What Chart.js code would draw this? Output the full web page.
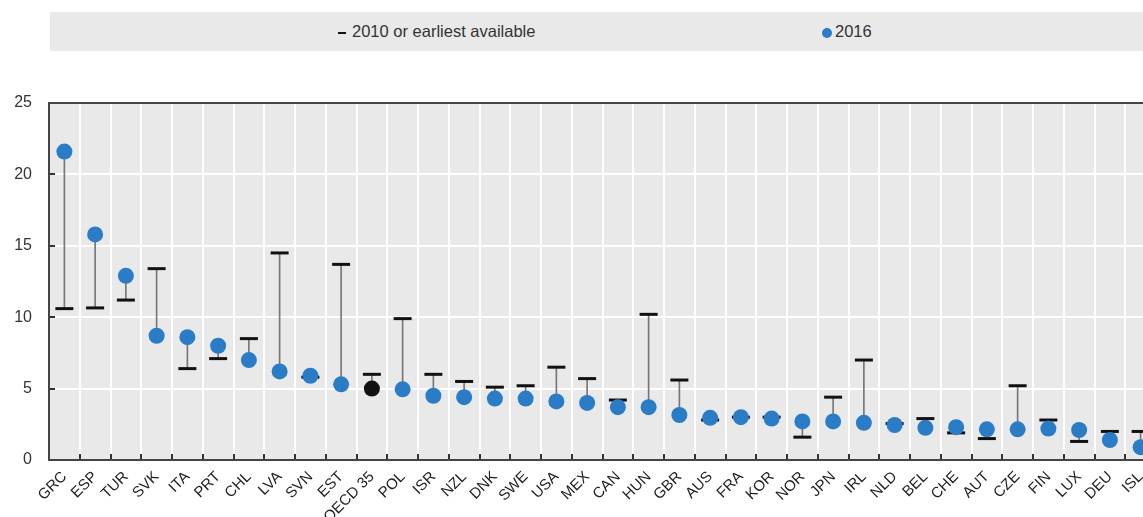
<!DOCTYPE html>
<html>
<head>
<meta charset="utf-8">
<script src="https://cdn.jsdelivr.net/npm/chart.js@4.4.0/dist/chart.umd.min.js"></script>
<style>
  body { margin: 0; background: #fff; overflow: hidden; width: 1143px; height: 517px; position: relative;
         font-family: "Liberation Sans", Arial, sans-serif; }
  #legend { position: absolute; left: 50px; top: 12px; width: 1110px; height: 39px; background: #e9e9e9; }
  .item { position: absolute; top: 0; line-height: 39px; font-size: 16.5px; color: #333; white-space: nowrap; }
  .dash { display: inline-block; width: 8px; height: 2px; background: #111; vertical-align: middle; margin-right: 6px; }
  .dot { display: inline-block; width: 10px; height: 10px; border-radius: 50%; background: #2a7cc6; vertical-align: middle; margin-right: 3px; }
  #wrap { position: absolute; left: 0; top: 0; }
</style>
</head>
<body>
<div id="legend">
  <div class="item" style="left:288px"><span class="dash"></span>2010 or earliest available</div>
  <div class="item" style="left:772px"><span class="dot"></span>2016</div>
</div>
<div id="wrap"><canvas id="chart" width="1168" height="517"></canvas></div>
<script>
// pays, valeurs 2016 et 2010 (ou plus ancienne)
const countries = ["GRC", "ESP", "TUR", "SVK", "ITA", "PRT", "CHL", "LVA", "SVN", "EST", "OECD 35", "POL",
  "ISR", "NZL", "DNK", "SWE", "USA", "MEX", "CAN", "HUN", "GBR", "AUS", "FRA", "KOR", "NOR", "JPN",
  "IRL", "NLD", "BEL", "CHE", "AUT", "CZE", "FIN", "LUX", "DEU", "ISL"];
const val2016 = [21.6, 15.8, 12.9, 8.7, 8.6, 8.0, 7.0, 6.2, 5.9, 5.3, 5.0, 4.95,
  4.5, 4.4, 4.3, 4.3, 4.1, 4.0, 3.7, 3.7, 3.15, 2.95, 3.0, 2.9, 2.7, 2.7,
  2.6, 2.45, 2.25, 2.3, 2.15, 2.15, 2.2, 2.1, 1.4, 0.9];
const val2010 = [10.6, 10.65, 11.2, 13.4, 6.4, 7.1, 8.5, 14.5, 5.8, 13.7, 6.0, 9.9,
  6.0, 5.5, 5.1, 5.2, 6.5, 5.7, 4.2, 10.2, 5.6, 2.8, 3.0, 3.0, 1.6, 4.4,
  7.0, 2.55, 2.9, 1.9, 1.5, 5.2, 2.8, 1.3, 2.0, 2.0];
const yTicks = [0, 5, 10, 15, 20, 25];

const blue = "#2a7cc6";
const dotColors = countries.map(c => c === "OECD 35" ? "#111" : blue);
const ranges = countries.map((c, i) => [Math.min(val2016[i], val2010[i]), Math.max(val2016[i], val2010[i])]);

/* fond gris, cadre et petites graduations vers l'intérieur */
const frame = {
  id: "frame",
  beforeDraw(chart) {
    const a = chart.chartArea, ctx = chart.ctx;
    ctx.save();
    ctx.fillStyle = "#e9e9e9";
    ctx.fillRect(a.left, a.top, a.right - a.left, a.bottom - a.top);
    ctx.restore();
  },
  beforeDatasetsDraw(chart) {
    const a = chart.chartArea, ctx = chart.ctx;
    const x = chart.scales.x, y = chart.scales.y;
    ctx.save();
    ctx.strokeStyle = "#333";
    ctx.lineWidth = 2;
    ctx.beginPath();
    for (let i = 1; i < countries.length; i++) {
      const px = Math.round((x.getPixelForValue(i - 1) + x.getPixelForValue(i)) / 2);
      ctx.moveTo(px, a.bottom);
      ctx.lineTo(px, a.bottom - 6);
    }
    yTicks.slice(1, -1).forEach(v => {
      const py = Math.round(y.getPixelForValue(v));
      ctx.moveTo(a.left, py);
      ctx.lineTo(a.left + 6, py);
    });
    ctx.stroke();
    ctx.strokeStyle = "#444";
    ctx.strokeRect(a.left, a.top, a.right - a.left, a.bottom - a.top);
    ctx.restore();
  }
};

const chart = new Chart(document.getElementById("chart"), {
  type: "line",
  data: {
    labels: countries,
    datasets: [
      {
        type: "bar",
        label: "range",
        data: ranges,
        backgroundColor: "#777",
        barThickness: 1,
        order: 3
      },
      {
        label: "2010 or earliest available",
        data: val2010,
        showLine: false,
        pointStyle: "line",
        pointRadius: 9,
        pointBorderWidth: 3,
        borderColor: "#111",
        pointBorderColor: "#111",
        order: 2
      },
      {
        label: "2016",
        data: val2016,
        showLine: false,
        pointRadius: 8,
        pointBorderWidth: 0,
        pointBackgroundColor: dotColors,
        pointBorderColor: dotColors,
        order: 1
      }
    ]
  },
  options: {
    responsive: false,
    animation: false,
    layout: { padding: { top: 103, right: 0, left: 0, bottom: 0 } },
    plugins: { legend: { display: false }, tooltip: { enabled: false } },
    scales: {
      x: {
        offset: true,
        grid: { offset: true, color: "#fff", lineWidth: 2, drawTicks: false },
        border: { display: false },
        ticks: { autoSkip: false, maxRotation: 45, minRotation: 45, color: "#222", padding: 8,
                 font: { family: "'Liberation Sans', Arial, sans-serif", size: 15 } },
        afterFit: s => { s.height = 57; }
      },
      y: {
        min: 0,
        max: 25,
        afterBuildTicks: s => { s.ticks = yTicks.map(v => ({ value: v })); },
        grid: { color: "#fff", lineWidth: 2, drawTicks: false },
        border: { display: false },
        ticks: { color: "#333", padding: 17, font: { family: "'Liberation Sans', Arial, sans-serif", size: 16 } },
        afterFit: s => { s.width = 49; }
      }
    }
  },
  plugins: [frame]
});
console.log(JSON.stringify(chart.chartArea));
</script>
</body>
</html>
